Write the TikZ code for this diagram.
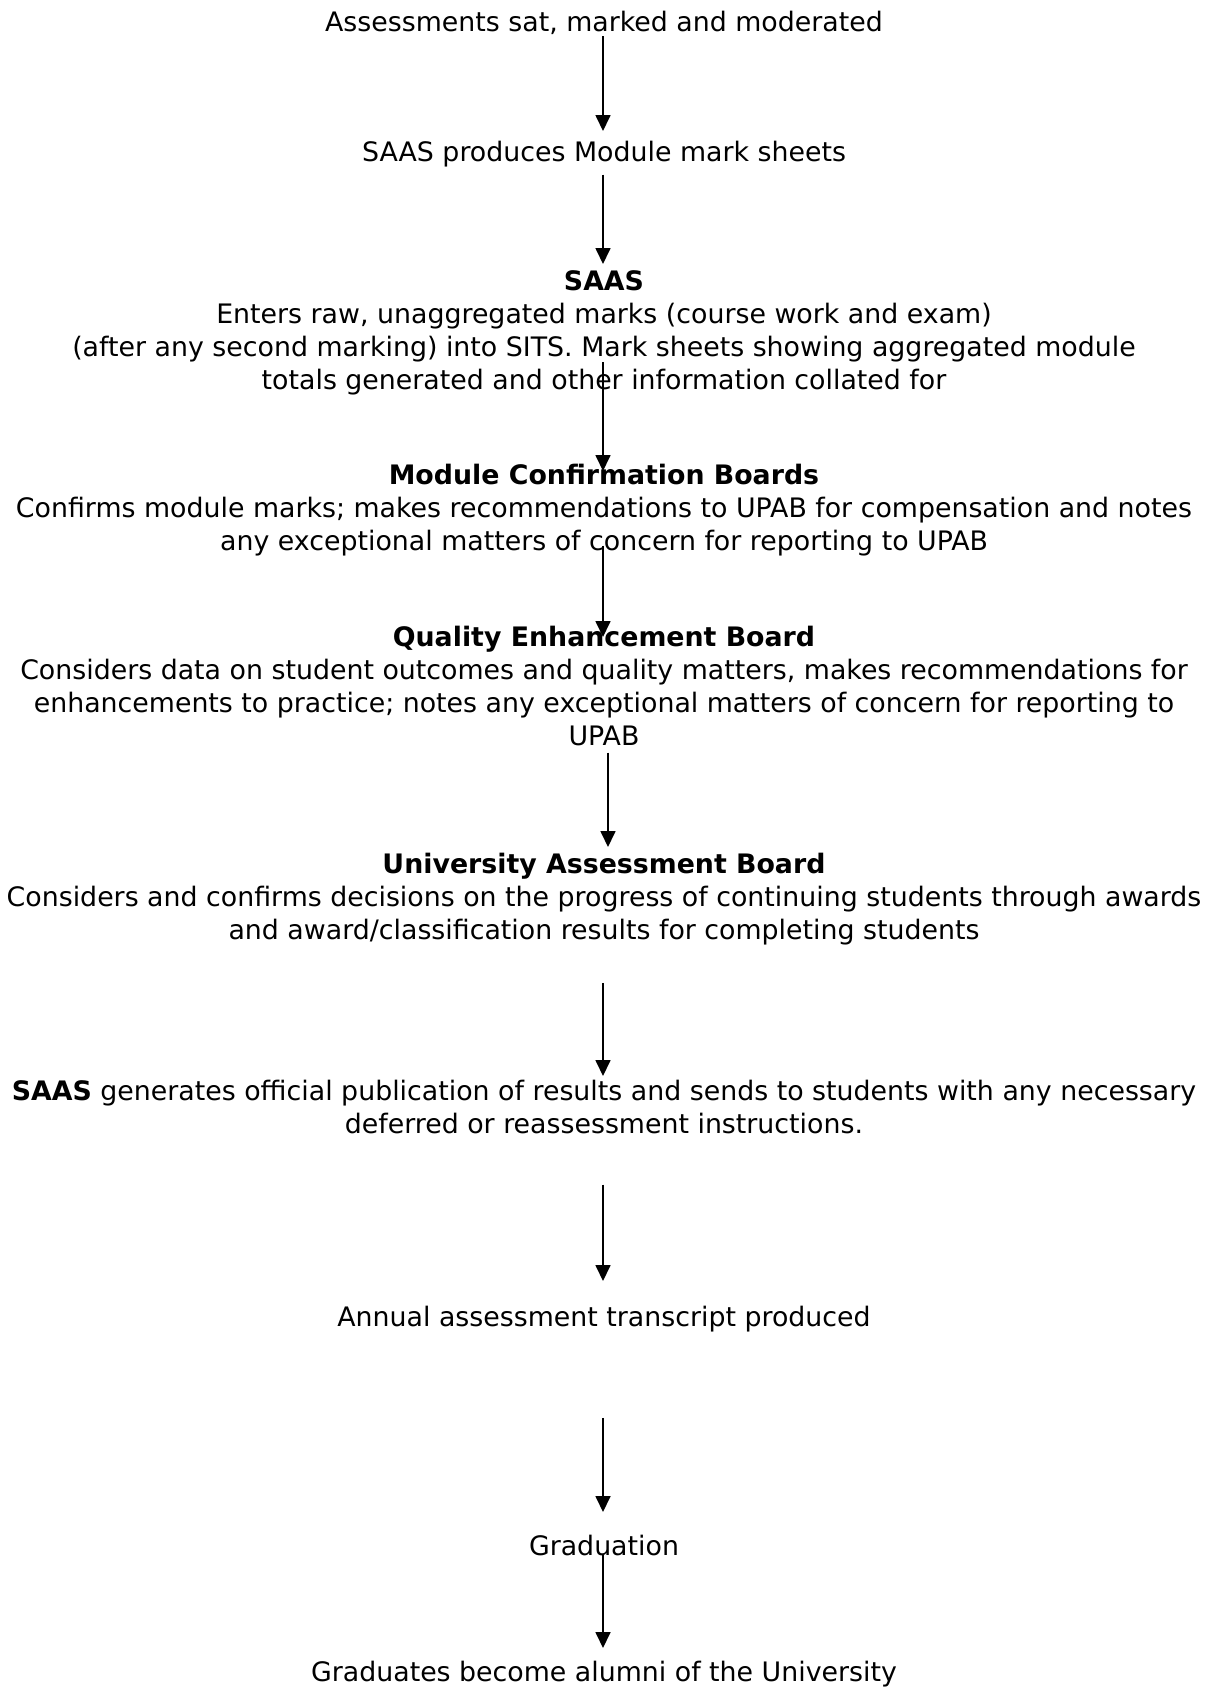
\documentclass[tikz,border=0pt]{standalone}
\usepackage{fontspec}
\setmainfont{DejaVu Sans}
\usepackage{tikz}
\usetikzlibrary{arrows.meta,positioning}

\tikzset{
    stage/.style={anchor=north, inner sep=0pt, align=center,
        font=\fontsize{13.4pt}{16.5pt}\selectfont},
    flowarrow/.style={-{Triangle[length=8pt,width=7.5pt]}, line width=0.85pt}
}

\begin{document}
\begin{tikzpicture}[x=0.5pt, y=-0.5pt]  % one unit = one pixel, y going down
    % Page size
    \def\cx{604}
    \useasboundingbox (0,0) rectangle (1212,1688);
    % Stages of the process, top to bottom
    \node[stage] (assess) at (\cx,10.5) {Assessments sat, marked and moderated};
    \node[stage] (sheets) at (\cx,141) {SAAS produces Module mark sheets};
    \node[stage] (saas) at (\cx,270) {\textbf{SAAS}\\
        Enters raw, unaggregated marks (course work and exam)\\
        (after any second marking) into SITS. Mark sheets showing aggregated module\\
        totals generated and other information collated for};
    \node[stage] (mcb) at (\cx,464) {\textbf{Module Confirmation Boards}\\
        Confirms module marks; makes recommendations to UPAB for compensation and notes\\
        any exceptional matters of concern for reporting to UPAB};
    \node[stage] (qeb) at (\cx,626) {\textbf{Quality Enhancement Board}\\
        Considers data on student outcomes and quality matters, makes recommendations for\\
        enhancements to practice; notes any exceptional matters of concern for reporting to\\
        UPAB};
    \node[stage] (uab) at (\cx,853) {\textbf{University Assessment Board}\\
        Considers and confirms decisions on the progress of continuing students through awards\\
        and award/classification results for completing students};
    \node[stage] (pub) at (\cx,1080) {\textbf{SAAS} generates official publication of results and sends to students with any necessary\\
        deferred or reassessment instructions.};
    \node[stage] (trans) at (\cx,1306) {Annual assessment transcript produced};
    \node[stage] (grad) at (\cx,1535) {Graduation};
    \node[stage] (alumni) at (\cx,1661) {Graduates become alumni of the University};
    % Arrows between stages (start gap / end gap / x offset)
    \foreach \a/\b/\s/\e/\dx in {assess/sheets/0.75pt/5pt/-1,
            sheets/saas/3.5pt/3pt/-1,
            saas/mcb/-16.5pt/-3.5pt/-1,
            mcb/qeb/-5.5pt/-5.5pt/-1,
            qeb/uab/3pt/3pt/4,
            uab/pub/18.5pt/2pt/-1,
            pub/trans/25pt/12.5pt/-1,
            trans/grad/42.5pt/11.5pt/-1,
            grad/alumni/-1pt/6.5pt/-1} {
        \draw[flowarrow, shorten <=\s, shorten >=\e]
            ([xshift=\dx*0.5pt]\a.south) -- ([xshift=\dx*0.5pt]\b.north);
    }
\end{tikzpicture}
\end{document}
